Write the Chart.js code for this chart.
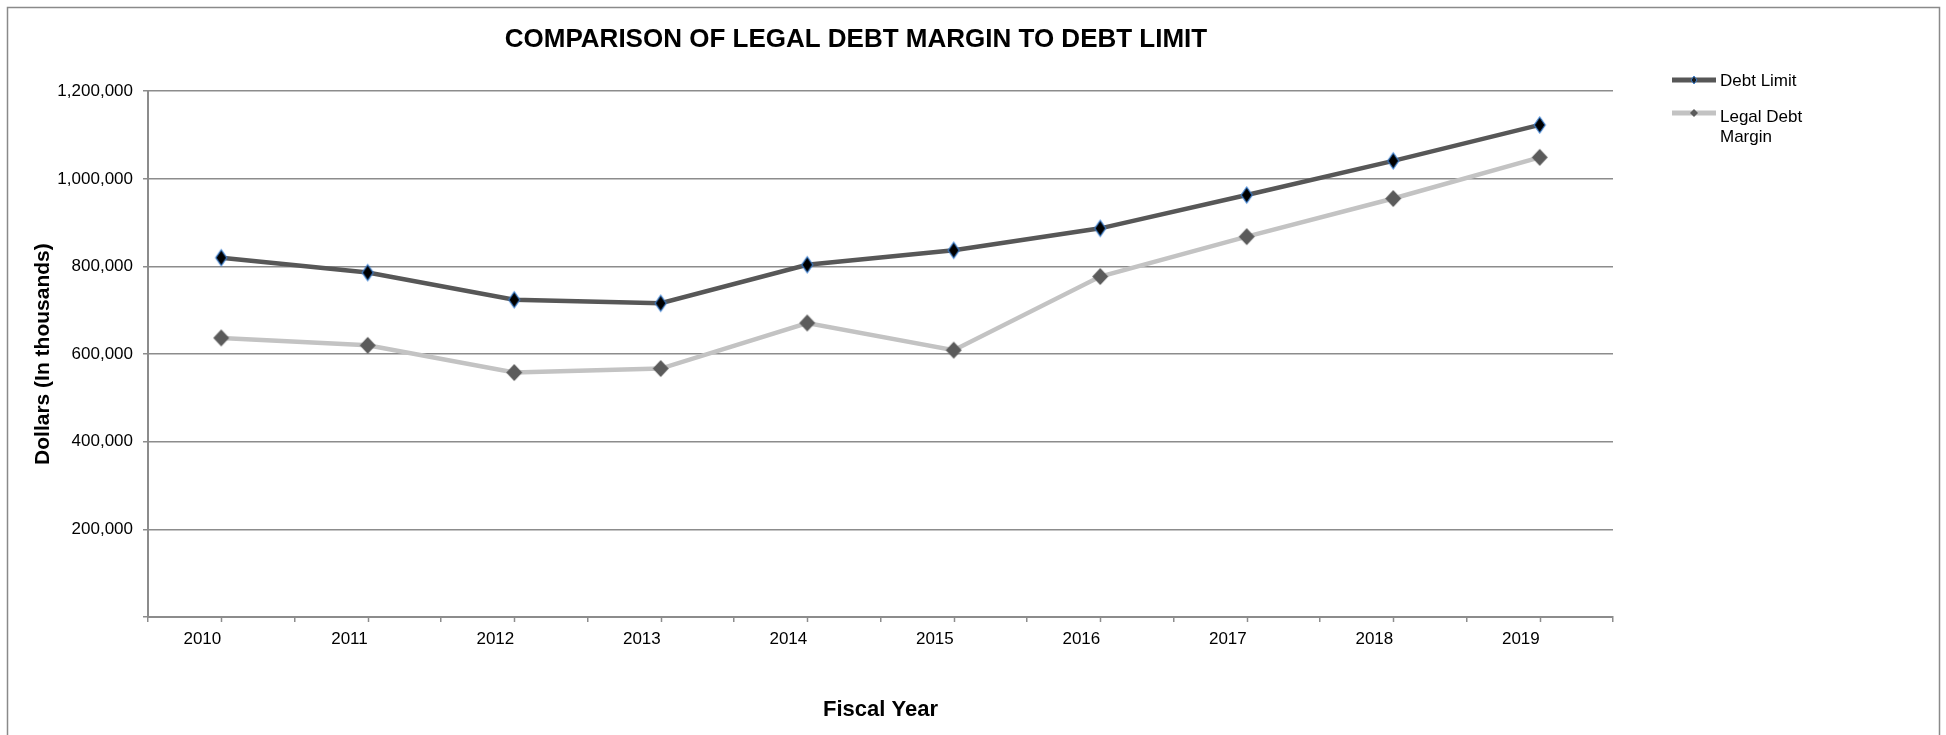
<!DOCTYPE html>
<html><head><meta charset="utf-8">
<script src="https://cdn.jsdelivr.net/npm/chart.js@4/dist/chart.umd.min.js"></script>
<style>html,body{margin:0;padding:0;background:#fff;}canvas{display:block}</style>
</head><body>
<canvas id="c" width="1946" height="735"></canvas>
<script>
// ---- data ----
const years = ['2010','2011','2012','2013','2014','2015','2016','2017','2018','2019'];
const debtLimit = [820000, 786000, 724000, 716000, 804000, 837000, 887000, 963000, 1041000, 1123000];
const legalDebtMargin = [637000, 620000, 558000, 567000, 671000, 609000, 777000, 868000, 955000, 1049000];
const yTickValues = [0, 200000, 400000, 600000, 800000, 1000000, 1200000];
const seriesNames = ['Debt Limit', 'Legal Debt Margin'];
const chartTitle = 'COMPARISON OF LEGAL DEBT MARGIN TO DEBT LIMIT';
const yTitle = 'Dollars (In thousands)';
const xTitle = 'Fiscal Year';

const FONT = "'Liberation Sans', Arial, sans-serif";
const GRID = '#8c8c8c';
const DARK = '#575757';
const LIGHT = '#c3c3c3';

function diamond(w, h, fill, stroke, lw) {
  const c = document.createElement('canvas');
  const pad = stroke ? 2 : 1;
  c.width = w + pad * 2; c.height = h + pad * 2;
  const x = c.getContext('2d');
  x.beginPath();
  x.moveTo(c.width / 2, pad);
  x.lineTo(c.width - pad, c.height / 2);
  x.lineTo(c.width / 2, c.height - pad);
  x.lineTo(pad, c.height / 2);
  x.closePath();
  x.fillStyle = fill; x.fill();
  if (stroke) { x.strokeStyle = stroke; x.lineWidth = lw; x.stroke(); }
  return c;
}
const mDebt = diamond(11, 16, '#000', '#3b7fd0', 1.2);
const mLegal = diamond(16, 17, '#5b5b5b');
const mDebtSmall = diamond(6, 8, '#1a1a1a', '#3b7fd0', 1);
const mLegalSmall = diamond(8, 8, '#5b5b5b');

const framePlugin = {
  id: 'frame',
  beforeDraw(chart) {
    const ctx = chart.ctx;
    ctx.save();
    ctx.fillStyle = '#fff';
    ctx.fillRect(0, 0, chart.width, chart.height);
    ctx.strokeStyle = '#8a8a8a';
    ctx.lineWidth = 1.5;
    ctx.strokeRect(7.5, 7.5, 1932, 760);
    ctx.restore();
  },
  afterDraw(chart) {
    const ctx = chart.ctx;
    const xs = chart.scales.x;
    // center tick marks on the category axis
    ctx.save();
    ctx.strokeStyle = GRID; ctx.lineWidth = 1.5;
    xs.ticks.forEach((t, i) => {
      const px = Math.round(xs.getPixelForTick(i)) + 0.5;
      ctx.beginPath(); ctx.moveTo(px, xs.top); ctx.lineTo(px, xs.top + 5); ctx.stroke();
    });
    // legend
    const items = [
      {name: seriesNames[0], color: DARK, marker: mDebtSmall},
      {name: seriesNames[1], color: LIGHT, marker: mLegalSmall}
    ];
    let y = 80;
    const lx0 = 1672, lx1 = 1716, tx = 1720, maxW = 96, lh = 20;
    ctx.font = '17px ' + FONT;
    ctx.textBaseline = 'middle';
    ctx.textAlign = 'left';
    items.forEach(it => {
      ctx.strokeStyle = it.color; ctx.lineWidth = 5;
      ctx.beginPath(); ctx.moveTo(lx0, y); ctx.lineTo(lx1, y); ctx.stroke();
      ctx.drawImage(it.marker, (lx0 + lx1) / 2 - it.marker.width / 2, y - it.marker.height / 2);
      const words = it.name.split(' ');
      const lines = []; let cur = '';
      words.forEach(w => {
        const t = cur ? cur + ' ' + w : w;
        if (ctx.measureText(t).width > maxW && cur) { lines.push(cur); cur = w; } else cur = t;
      });
      lines.push(cur);
      ctx.fillStyle = '#000';
      const off = lines.length > 1 ? 4 : 1;
      lines.forEach((l, k) => ctx.fillText(l, tx, y + off + k * lh));
      y += 33;
    });
    ctx.restore();
  }
};

Chart.defaults.font.family = FONT;
Chart.defaults.color = '#000';

new Chart(document.getElementById('c'), {
  type: 'line',
  data: {
    labels: years,
    datasets: [
      {
        label: seriesNames[0], data: debtLimit, borderColor: DARK, backgroundColor: DARK,
        borderWidth: 4.5, tension: 0, pointStyle: mDebt, order: 1, clip: false
      },
      {
        label: seriesNames[1], data: legalDebtMargin, borderColor: LIGHT, backgroundColor: LIGHT,
        borderWidth: 4.5, tension: 0, pointStyle: mLegal, order: 0, clip: false
      }
    ]
  },
  options: {
    responsive: false, animation: false, devicePixelRatio: 1,
    layout: { padding: { left: 0, right: 234, top: 10, bottom: 0 } },
    plugins: {
      legend: { display: false },
      tooltip: { enabled: false },
      title: {
        display: true, text: chartTitle, color: '#000',
        font: { size: 26, weight: 'bold', family: FONT },
        padding: { top: 14, bottom: 36 }
      }
    },
    scales: {
      x: {
        type: 'category', offset: true,
        grid: { display: true, drawOnChartArea: false, drawTicks: true, tickLength: 5, offset: true, color: GRID, lineWidth: 1.5 },
        border: { display: true, color: GRID, width: 2 },
        ticks: { align: 'end', padding: 7, font: { size: 17 }, color: '#000', maxRotation: 0, autoSkip: false },
        title: { display: true, text: xTitle, color: '#000', font: { size: 22, weight: 'bold' }, padding: { top: 0, bottom: 12 } },
        afterFit(s) { s.height = 118; }
      },
      y: {
        type: 'linear', min: 0, max: 1200000,
        afterBuildTicks(s) { s.ticks = yTickValues.map(v => ({ value: v })); },
        grid: { color: GRID, lineWidth: 1.5, tickLength: 5, drawTicks: true },
        border: { display: true, color: GRID, width: 2 },
        ticks: {
          padding: 10, font: { size: 17 }, color: '#000',
          callback: v => v === 0 ? '' : Number(v).toLocaleString('en-US')
        },
        title: { display: true, text: yTitle, color: '#000', font: { size: 21, weight: 'bold' }, padding: { top: 31, bottom: 0 } },
        afterFit(s) { s.width = 148; }
      },
      yRightSpace: {
        type: 'linear', position: 'right', display: true,
        grid: { display: false, drawTicks: false }, border: { display: false },
        ticks: { display: false },
        afterFit(s) { s.width = 99; }
      }
    }
  },
  plugins: [framePlugin]
});
</script>
</body></html>
